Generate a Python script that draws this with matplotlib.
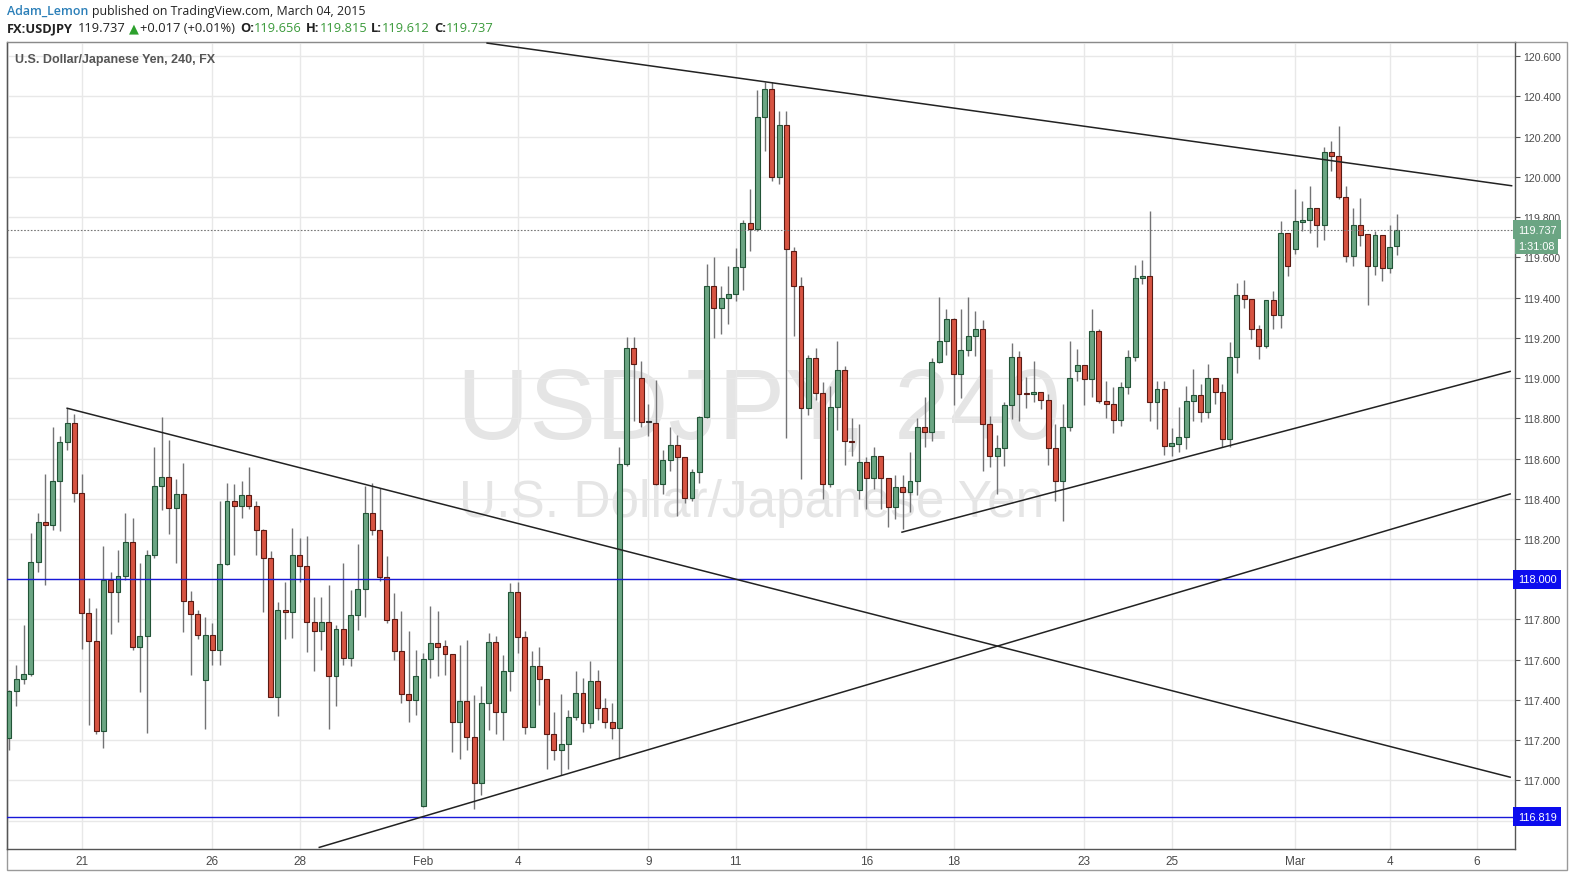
import numpy as np
import matplotlib.pyplot as plt
from matplotlib.patches import Rectangle
from matplotlib.transforms import blended_transform_factory

# 4h candles, USDJPY, Jan 20 - Mar 4 2015
opens = [117.213, 117.443, 117.502, 117.528, 118.088, 118.283, 118.268, 118.488, 118.683, 118.778,
         118.428, 117.833, 117.692, 117.247, 117.997, 117.938, 118.017, 118.185, 117.663, 117.718,
         118.118, 118.463, 118.508, 118.353, 118.422, 117.893, 117.827, 117.500, 117.725, 117.647,
         118.078, 118.388, 118.363, 118.418, 118.363, 118.247, 118.108, 117.417, 117.847, 117.837,
         118.118, 118.068, 117.788, 117.743, 117.785, 117.518, 117.755, 117.608, 117.822, 117.952,
         118.330, 118.243, 118.013, 117.803, 117.642, 117.430, 117.400, 116.872, 117.603, 117.683,
         117.667, 117.628, 117.292, 117.397, 117.217, 116.987, 117.387, 117.687, 117.342, 117.542,
         117.938, 117.712, 117.267, 117.567, 117.503, 117.233, 117.150, 117.183, 117.317, 117.433,
         117.283, 117.492, 117.358, 117.288, 117.262, 118.572, 119.147, 119.002, 118.780, 118.775,
         118.472, 118.592, 118.667, 118.610, 118.405, 118.535, 118.805, 119.460, 119.347, 119.397,
         119.417, 119.550, 119.772, 119.743, 120.300, 120.438, 120.000, 120.258, 119.633, 119.458,
         118.850, 119.100, 118.928, 118.475, 118.858, 119.038, 118.687, 118.442, 118.583, 118.503,
         118.613, 118.503, 118.358, 118.458, 118.433, 118.488, 118.758, 118.733, 119.078, 119.183,
         119.295, 119.022, 119.138, 119.208, 119.242, 118.770, 118.615, 118.653, 118.867, 119.107,
         118.925, 118.922, 118.933, 118.892, 118.653, 118.487, 118.757, 119.037, 119.067, 118.995,
         119.232, 118.887, 118.873, 118.790, 118.957, 119.103, 119.495, 119.508, 118.882, 118.948,
         118.662, 118.672, 118.705, 118.888, 118.917, 118.833, 119.000, 118.933, 118.697, 119.105,
         119.413, 119.393, 119.243, 119.158, 119.388, 119.313, 119.722, 119.640, 119.778, 119.785,
         119.847, 119.763, 120.125, 120.105, 119.900, 119.605, 119.760, 119.717, 119.555, 119.710,
         119.547, 119.656]
highs = [117.450, 117.572, 117.772, 118.230, 118.330, 118.522, 118.758, 118.713, 118.850, 118.820,
         118.525, 117.905, 117.855, 118.163, 118.038, 118.147, 118.327, 118.305, 118.080, 118.147,
         118.655, 118.805, 118.690, 118.497, 118.580, 117.943, 117.847, 117.813, 117.783, 118.388,
         118.480, 118.472, 118.488, 118.560, 118.388, 118.250, 118.142, 117.888, 117.988, 118.255,
         118.205, 118.217, 117.913, 117.913, 117.972, 117.772, 118.080, 117.947, 118.175, 118.463,
         118.480, 118.452, 118.113, 117.933, 117.842, 117.742, 117.650, 117.633, 117.867, 117.842,
         117.700, 117.628, 117.672, 117.700, 117.425, 117.467, 117.733, 117.717, 117.622, 117.983,
         117.988, 117.742, 117.642, 117.662, 117.503, 117.342, 117.428, 117.350, 117.542, 117.508,
         117.592, 117.550, 117.408, 117.383, 118.655, 119.205, 119.205, 119.083, 118.872, 118.988,
         118.642, 118.758, 118.717, 118.610, 118.550, 118.810, 119.568, 119.602, 119.460, 119.555,
         119.647, 119.788, 119.938, 120.430, 120.472, 120.472, 120.330, 120.330, 119.650, 119.503,
         119.117, 119.150, 118.980, 118.962, 119.183, 119.058, 118.803, 118.770, 118.608, 118.658,
         118.613, 118.503, 118.517, 118.517, 118.633, 118.800, 118.908, 119.100, 119.403, 119.342,
         119.300, 119.342, 119.403, 119.333, 119.287, 118.812, 118.715, 118.883, 119.175, 119.133,
         119.003, 119.087, 118.933, 118.920, 118.770, 118.873, 119.182, 119.145, 119.067, 119.342,
         119.245, 118.987, 118.957, 118.978, 119.137, 119.562, 119.587, 119.828, 118.987, 118.987,
         118.753, 118.855, 118.963, 119.047, 118.972, 119.072, 119.000, 118.972, 119.177, 119.472,
         119.488, 119.393, 119.263, 119.388, 119.433, 119.780, 119.722, 119.938, 119.880, 119.955,
         119.847, 120.150, 120.177, 120.255, 119.955, 119.843, 119.893, 119.717, 119.730, 119.710,
         119.763, 119.815]
lows = [117.150, 117.372, 117.480, 117.520, 118.038, 117.970, 118.247, 118.238, 118.640, 118.385,
        117.655, 117.277, 117.230, 117.163, 117.730, 117.788, 117.997, 117.647, 117.438, 117.238,
        118.105, 118.342, 118.227, 118.080, 117.738, 117.522, 117.705, 117.255, 117.572, 117.572,
        118.072, 118.118, 118.305, 118.347, 118.118, 117.838, 117.413, 117.322, 117.702, 117.708,
        117.988, 117.638, 117.543, 117.647, 117.255, 117.372, 117.572, 117.568, 117.747, 117.813,
        118.222, 117.992, 117.780, 117.600, 117.383, 117.292, 117.325, 116.867, 117.508, 117.517,
        117.522, 117.142, 117.105, 117.150, 116.858, 116.925, 117.250, 117.230, 117.200, 117.442,
        117.633, 117.233, 117.267, 117.375, 117.058, 117.100, 117.025, 117.058, 117.300, 117.242,
        117.258, 117.300, 117.258, 117.208, 117.108, 118.563, 118.788, 118.755, 118.713, 118.467,
        118.422, 118.538, 118.313, 118.380, 118.390, 118.480, 118.800, 119.200, 119.217, 119.267,
        119.383, 119.438, 119.633, 119.730, 120.130, 119.980, 119.967, 118.700, 119.208, 118.500,
        118.817, 118.892, 118.400, 118.458, 118.742, 118.567, 118.613, 118.400, 118.350, 118.450,
        118.350, 118.260, 118.300, 118.250, 118.333, 118.417, 118.658, 118.687, 119.075, 119.113,
        118.867, 118.900, 119.108, 119.108, 118.537, 118.557, 118.423, 118.562, 118.795, 118.787,
        118.850, 118.883, 118.845, 118.570, 118.390, 118.287, 118.737, 118.987, 118.867, 118.907,
        118.878, 118.803, 118.728, 118.762, 118.923, 119.083, 119.467, 118.787, 118.745, 118.617,
        118.612, 118.630, 118.647, 118.788, 118.783, 118.800, 118.872, 118.655, 118.655, 119.027,
        119.350, 119.193, 119.097, 119.147, 119.243, 119.250, 119.505, 119.617, 119.733, 119.722,
        119.650, 119.688, 120.030, 119.888, 119.577, 119.555, 119.655, 119.363, 119.513, 119.480,
        119.522, 119.612]
closes = [117.443, 117.502, 117.528, 118.088, 118.283, 118.268, 118.488, 118.683, 118.778, 118.428,
          117.833, 117.692, 117.247, 117.997, 117.938, 118.017, 118.185, 117.663, 117.718, 118.118,
          118.463, 118.508, 118.353, 118.422, 117.893, 117.827, 117.722, 117.725, 117.647, 118.078,
          118.388, 118.363, 118.418, 118.363, 118.247, 118.108, 117.417, 117.847, 117.837, 118.118,
          118.068, 117.788, 117.743, 117.785, 117.518, 117.755, 117.608, 117.822, 117.952, 118.330,
          118.243, 118.013, 117.797, 117.642, 117.430, 117.400, 117.520, 117.603, 117.683, 117.663,
          117.628, 117.292, 117.397, 117.217, 116.987, 117.387, 117.687, 117.342, 117.542, 117.938,
          117.712, 117.267, 117.567, 117.503, 117.233, 117.150, 117.183, 117.317, 117.433, 117.283,
          117.492, 117.358, 117.288, 117.262, 118.572, 119.147, 119.068, 118.780, 118.780, 118.472,
          118.592, 118.667, 118.610, 118.405, 118.535, 118.805, 119.460, 119.347, 119.397, 119.417,
          119.550, 119.772, 119.743, 120.300, 120.438, 120.000, 120.258, 119.642, 119.458, 118.850,
          119.100, 118.928, 118.475, 118.858, 119.038, 118.687, 118.683, 118.583, 118.503, 118.613,
          118.503, 118.358, 118.458, 118.433, 118.488, 118.758, 118.733, 119.078, 119.183, 119.295,
          119.022, 119.138, 119.208, 119.242, 118.770, 118.615, 118.653, 118.867, 119.107, 118.920,
          118.922, 118.930, 118.892, 118.653, 118.487, 118.757, 118.998, 119.067, 118.995, 119.232,
          118.887, 118.870, 118.790, 118.957, 119.103, 119.498, 119.508, 118.882, 118.948, 118.662,
          118.678, 118.705, 118.888, 118.917, 118.833, 119.000, 118.933, 118.697, 119.105, 119.413,
          119.393, 119.243, 119.158, 119.388, 119.313, 119.722, 119.558, 119.780, 119.785, 119.847,
          119.763, 120.125, 120.105, 119.900, 119.605, 119.760, 119.713, 119.555, 119.710, 119.547,
          119.652, 119.737]

date_pos = [10, 28, 40, 57, 70, 88, 100, 118, 130, 148, 160, 177, 190, 202]
date_labels = ['21', '26', '28', 'Feb', '4', '9', '11', '16', '18', '23', '25', 'Mar', '4', '6']
price_ticks = [116.8, 117.0, 117.2, 117.4, 117.6, 117.8, 118.0, 118.2, 118.4, 118.6, 118.8,
               119.0, 119.2, 119.4, 119.6, 119.8, 120.0, 120.2, 120.4, 120.6]
h_levels = [118.000, 116.819]
last_price = 119.737
countdown = '1:31:08'
# drawn trend lines: (bar index, price) start -> end
trend_lines = [((65.8, 120.665), (206.8, 119.956)),
               ((8.0, 118.850), (206.6, 117.016)),
               ((42.7, 116.667), (206.6, 118.424)),
               ((122.9, 118.234), (206.6, 119.033))]

W, H = 1575, 879
fig = plt.figure(figsize=(W / 100, H / 100), dpi=100)
fig.patch.set_facecolor('white')


def fx(px):
    return px / W


def fy(py):
    return 1 - py / H


L, R, T, B = 6.7, 1514.5, 42.5, 850.0
ax = fig.add_axes([fx(L), fy(B), fx(R) - fx(L), fy(T) - fy(B)])
ax.set_xlim(-0.32, 207.2)
ax.set_ylim(116.659, 120.673)

up_fill, dn_fill = '#6ba583', '#d75442'
up_edge, dn_edge = '#225437', '#5b1a13'
wick_col = '#737375'

o = np.array(opens)
c = np.array(closes)
hi = np.array(highs)
lo = np.array(lows)
idx = np.arange(len(o))
is_up = c >= o

ax.vlines(idx, lo, hi, color=wick_col, lw=1, zorder=3)
body_h = np.maximum(np.abs(c - o), 0.006)
body_b = np.minimum(o, c)
fill = np.where(is_up, up_fill, dn_fill)
edge = np.where(is_up, up_edge, dn_edge)
doji = np.abs(c - o) < 0.002
fill[doji] = '#333333'
edge[doji] = '#333333'
ax.bar(idx, body_h, bottom=body_b, width=0.68, color=fill, edgecolor=edge,
       linewidth=0.8, zorder=4)

# watermark
fig.text(fx(759), fy(413), 'USDJPY, 240', fontsize=72, color='#e5e5e5',
         family='Liberation Sans', ha='center', va='center', zorder=0)
fig.text(fx(752), fy(503), 'U.S. Dollar/Japanese Yen', fontsize=37, color='#e5e5e5',
         family='Liberation Sans', ha='center', va='center', zorder=0)
ax.set_zorder(1)
ax.patch.set_alpha(0)

# horizontal levels and trend lines
for lvl in h_levels:
    ax.axhline(lvl, color='#1818d8', lw=1, zorder=5)
ax.axhline(last_price, color='#777777', lw=0.8, ls=(0, (1.5, 1.5)), zorder=5)
for (x0, y0), (x1, y1) in trend_lines:
    ax.plot([x0, x1], [y0, y1], color='#222222', lw=1.1, zorder=6, clip_on=True)

# grid and axes
ax.set_xticks(date_pos)
ax.set_xticklabels(date_labels)
ax.set_yticks(price_ticks)
# levels that carry their own label box get no plain tick label
ax.set_yticklabels(['' if any(abs(p - lv) < 0.05 for lv in h_levels) else f'{p:.3f}'
                    for p in price_ticks])
ax.yaxis.tick_right()
ax.grid(True, color='#e8e8e8', lw=1, zorder=0)
ax.set_axisbelow(True)
ax.tick_params(axis='x', length=0, pad=4, labelsize=8.5, labelcolor='#4a4a4a')
ax.tick_params(axis='y', length=3.5, width=0.8, color='#555555', pad=3,
               labelsize=7.6, labelcolor='#4a4a4a')
for lab in ax.get_xticklabels():
    lab.set_family(['Liberation Sans Narrow', 'Liberation Sans'])
for lab in ax.get_yticklabels():
    lab.set_family('Liberation Sans')
for side in ['left', 'right', 'bottom']:
    ax.spines[side].set_color('#555555')
    ax.spines[side].set_linewidth(1)
ax.spines['top'].set_color('#8a8a8a')

# price labels on the right scale
tr = blended_transform_factory(ax.transAxes, ax.transData)
xa = (1518 - L) / (R - L)
box_kw = dict(transform=tr, ha='left', va='center', fontsize=7.8, color='white',
              family='Liberation Sans', zorder=10, clip_on=False)
for lvl in h_levels:
    ax.text(xa, lvl, f'{lvl:.3f}', bbox=dict(boxstyle='square,pad=0.42', fc='#0c0cee', ec='none'),
            **box_kw)
ax.text(xa, last_price, f'{last_price:.3f}',
        bbox=dict(boxstyle='square,pad=0.42', fc='#6ba583', ec='none'), **box_kw)
ax.annotate(countdown, xy=((1555 - L) / (R - L), last_price), xycoords=tr,
            xytext=(0, -11.8), textcoords='offset points', ha='right', va='center',
            fontsize=7.8, color='white', family='Liberation Sans', zorder=10,
            annotation_clip=False,
            bbox=dict(boxstyle='square,pad=0.3', fc='#6ba583', ec='none'))

# symbol description inside the chart
ax.text((15 - L) / (R - L), 1 - (60.5 - T) / (B - T), 'U.S. Dollar/Japanese Yen, 240, FX',
        transform=ax.transAxes, ha='left', va='center', fontsize=9.0, fontweight='bold',
        color='#555555', family='Liberation Sans', zorder=10)

# outer frame
fig.add_artist(Rectangle((fx(L), fy(871)), fx(1567) - fx(L), fy(T) - fy(871),
                         transform=fig.transFigure, fill=False, ec='#9a9a9a', lw=1))

# header lines
renderer = fig.canvas.get_renderer()


def chain(x, y, parts, size):
    for s, col, wt, gap in parts:
        t = fig.text(fx(x), fy(y), s, color=col, fontweight=wt, fontsize=size,
                     ha='left', va='center', family=['Open Sans', 'DejaVu Sans'])
        x += t.get_window_extent(renderer=renderer).width + gap


chain(7, 11, [('Adam_Lemon', '#2b7fb8', 'semibold', 3.5),
              ('published on TradingView.com, March 04, 2015', '#222222', 'normal', 0)], 8.9)
green = '#3a9a3a'
chain(7, 29, [('FX:USDJPY', '#222222', 'bold', 5),
              ('119.737', '#222222', 'normal', 3),
              ('\u25b2', '#2ca02c', 'normal', 1.5),
              ('+0.017 (+0.01%)', '#222222', 'normal', 5),
              ('O:', '#222222', 'bold', 0), ('119.656', green, 'normal', 4),
              ('H:', '#222222', 'bold', 0), ('119.815', green, 'normal', 4),
              ('L:', '#222222', 'bold', 0), ('119.612', green, 'normal', 4),
              ('C:', '#222222', 'bold', 0), ('119.737', green, 'normal', 0)], 9.3)

fig.savefig('out.png', dpi=100)
